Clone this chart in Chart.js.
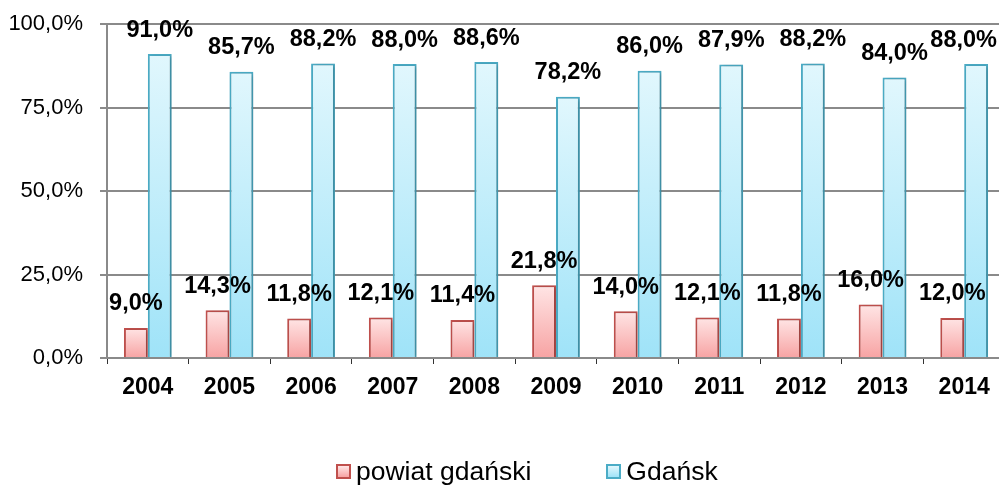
<!DOCTYPE html>
<html>
<head>
<meta charset="utf-8">
<script src="https://cdn.jsdelivr.net/npm/chart.js@4/dist/chart.umd.min.js"></script>
<style>
    html, body { margin: 0; padding: 0; background: #fff; overflow: hidden; }
    #wrap { position: relative; width: 1010px; height: 485px; }
    #legend {
        position: absolute; top: 456px; left: 336px;
        font: 26.5px "Liberation Sans", Arial, sans-serif; line-height: 30px;
        display: flex; align-items: center; color: #000;
    }
    .box { width: 11px; height: 11px; border: 2px solid; margin-right: 5px; }
    .item { display: flex; align-items: center; }
</style>
</head>
<body>
<div id="wrap">
    <canvas id="chart"></canvas>
    <div id="legend">
        <div class="item"><span class="box" style="border-color:#c0504d;background:linear-gradient(#ffe5e5,#f7a3a3)"></span><span id="lab0"></span></div>
        <div class="item" style="margin-left:75px"><span class="box" style="border-color:#4bacc6;background:linear-gradient(#e1f7fd,#9fe3f8)"></span><span id="lab1"></span></div>
    </div>
</div>
<script>
const years = ['2004', '2005', '2006', '2007', '2008', '2009', '2010', '2011', '2012', '2013', '2014'];
const seriesNames = ['powiat gdański', 'Gdańsk'];
const powiat = [9.0, 14.3, 11.8, 12.1, 11.4, 21.8, 14.0, 12.1, 11.8, 16.0, 12.0];
const gdansk = [91.0, 85.7, 88.2, 88.0, 88.6, 78.2, 86.0, 87.9, 88.2, 84.0, 88.0];
const yTicks = [0, 25, 50, 75, 100];

const FONT = '"Liberation Sans", Arial, sans-serif';
const pct = (v) => v.toFixed(1).replace('.', ',') + '%';

document.getElementById('lab0').textContent = seriesNames[0];
document.getElementById('lab1').textContent = seriesNames[1];

function barGradient(top, bottom) {
    return (context) => {
        const chart = context.chart;
        if (!chart.chartArea || context.raw === undefined) return bottom;
        const y = chart.scales.y;
        const y0 = y.getPixelForValue(context.raw);
        const y1 = y.getPixelForValue(0);
        const g = chart.ctx.createLinearGradient(0, y0, 0, Math.max(y1, y0 + 1));
        g.addColorStop(0, top);
        g.addColorStop(1, bottom);
        return g;
    };
}

const shadowPlugin = {
    id: 'barShadow',
    beforeDatasetsDraw(chart) {
        const c = chart.ctx;
        c.save();
        c.shadowColor = 'rgba(0,0,0,0.22)';
        c.shadowBlur = 4;
        c.shadowOffsetX = 2;
        c.shadowOffsetY = 1;
    },
    afterDatasetsDraw(chart) {
        chart.ctx.restore();
    }
};

// value labels above the bars, kept inside the visible window like Excel does
const valueLabels = {
    id: 'valueLabels',
    afterDatasetsDraw(chart) {
        const c = chart.ctx;
        const maxX = window.innerWidth - 2;
        c.save();
        c.font = 'bold 23.5px ' + FONT;
        c.fillStyle = '#000';
        c.textAlign = 'center';
        c.textBaseline = 'middle';
        chart.data.datasets.forEach((ds, i) => {
            chart.getDatasetMeta(i).data.forEach((bar, j) => {
                const text = pct(ds.data[j]);
                const half = c.measureText(text).width / 2;
                c.fillText(text, Math.min(bar.x, maxX - half), bar.y - 24);
            });
        });
        c.restore();
    }
};

new Chart(document.getElementById('chart'), {
    type: 'bar',
    data: {
        labels: years,
        datasets: [{
            label: seriesNames[0],
            data: powiat,
            backgroundColor: barGradient('#ffe5e5', '#f7a3a3'),
            borderColor: '#c0504d',
            borderWidth: 2,
            categoryPercentage: 0.585,
            barPercentage: 1.0
        }, {
            label: seriesNames[1],
            data: gdansk,
            backgroundColor: barGradient('#e1f7fd', '#9fe3f8'),
            borderColor: '#4bacc6',
            borderWidth: 2,
            categoryPercentage: 0.585,
            barPercentage: 1.0
        }]
    },
    options: {
        responsive: true,
        maintainAspectRatio: false,
        animation: false,
        layout: { padding: { top: 24, right: 5, bottom: 87, left: 0 } },
        plugins: {
            legend: { display: false },
            tooltip: { enabled: false }
        },
        scales: {
            x: {
                afterFit: (s) => { s.height = 40; },
                grid: { drawOnChartArea: false, color: '#333', lineWidth: 1, tickLength: 6 },
                border: { color: '#8a8a8a', width: 2 },
                ticks: { color: '#000', padding: 10, font: { family: FONT, size: 23, weight: 'bold' } }
            },
            y: {
                min: yTicks[0],
                max: yTicks[yTicks.length - 1],
                afterFit: (s) => { s.width = 107; s.paddingTop = 0; s.paddingBottom = 0; },
                grid: { color: '#8a8a8a', lineWidth: 2, tickLength: 7 },
                border: { color: '#8a8a8a', width: 2 },
                ticks: {
                    color: '#000', padding: 17, stepSize: yTicks[1] - yTicks[0],
                    font: { family: FONT, size: 22 }, callback: (v) => pct(v)
                }
            }
        }
    },
    plugins: [shadowPlugin, valueLabels]
});
</script>
</body>
</html>
